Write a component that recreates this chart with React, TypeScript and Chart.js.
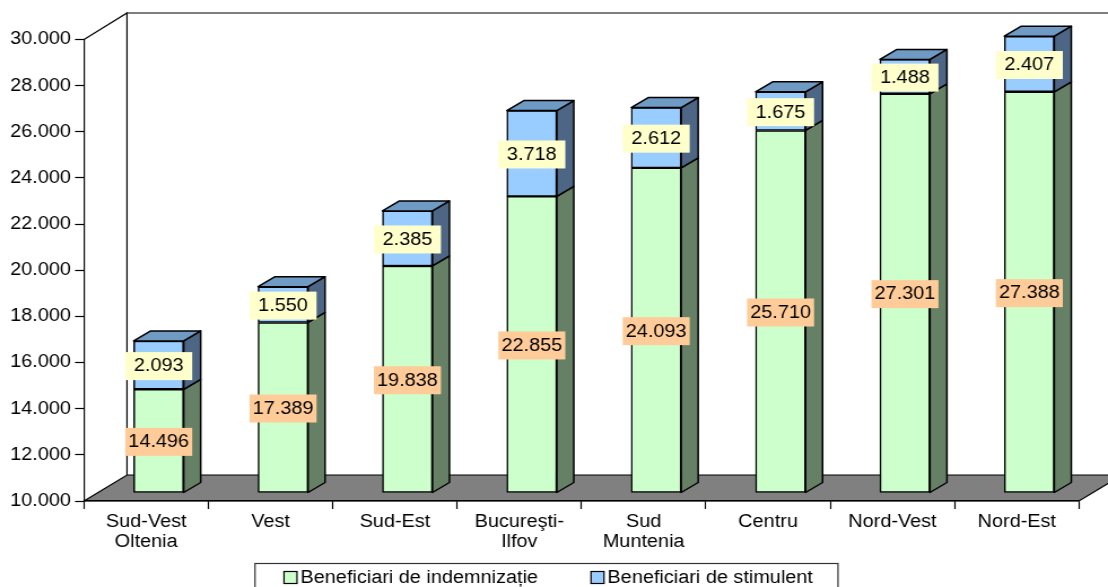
import React, { useEffect, useRef } from "react";
import { Chart, registerables } from "chart.js";

Chart.register(...registerables);

const categories = [
  ["Sud-Vest", "Oltenia"],
  "Vest",
  "Sud-Est",
  ["Bucureşti-", "Ilfov"],
  ["Sud", "Muntenia"],
  "Centru",
  "Nord-Vest",
  "Nord-Est",
];
const indemnizatie = [14496, 17389, 19838, 22855, 24093, 25710, 27301, 27388];
const stimulent = [2093, 1550, 2385, 3718, 2612, 1675, 1488, 2407];
const seriesNames = ["Beneficiari de indemnizație", "Beneficiari de stimulent"];
const faceColors = ["#CCFFCC", "#99CCFF"];
const sideColors = ["#668066", "#4D6685"];
const topColors = ["#80A080", "#6E9AC4"];
const labelColors = ["#FFCC99", "#FFFFCC"];
const axisMin = 10000;
const axisMax = 30000;

const W = 1108;
const H = 587;
const S = 1.13;
const CW = Math.round(W / S);
const X = (px: number) => (px * CW) / W;
const FONT = '"Liberation Sans", Arial, sans-serif';
const FS = 17.6;

const fmt = (v: number) => String(v).replace(/\B(?=(\d{3})+(?!\d))/g, ".");

const plugin3d = {
  id: "plugin3d",
  beforeDraw(chart: any) {
    const { ctx } = chart;
    ctx.save();
    ctx.strokeStyle = "#000";
    ctx.lineWidth = 1.2;
    // floor
    ctx.beginPath();
    ctx.moveTo(X(84), 501);
    ctx.lineTo(X(127), 475);
    ctx.lineTo(X(1122), 475);
    ctx.lineTo(X(1079), 501);
    ctx.closePath();
    ctx.fillStyle = "#808080";
    ctx.fill();
    ctx.stroke();
    // walls
    ctx.beginPath();
    ctx.moveTo(X(84), 39.5);
    ctx.lineTo(X(127), 13);
    ctx.lineTo(X(127), 475);
    ctx.moveTo(X(127), 13);
    ctx.lineTo(X(1122), 13);
    ctx.stroke();
    // legend frame and entries
    ctx.strokeStyle = "#333";
    ctx.strokeRect(X(255), 563.5, X(583), 40);
    ctx.strokeStyle = "#000";
    ctx.font = `${FS}px ${FONT}`;
    ctx.textBaseline = "middle";
    ctx.textAlign = "left";
    const sw = [284, 591];
    const tx = [300.5, 607.5];
    seriesNames.forEach((name, i) => {
      ctx.fillStyle = faceColors[i];
      ctx.fillRect(X(sw[i]), 571.5, X(13), 12);
      ctx.strokeRect(X(sw[i]), 571.5, X(13), 12);
      ctx.fillStyle = "#000";
      ctx.fillText(name, X(tx[i]), 578);
    });
    ctx.restore();
  },
  beforeDatasetsDraw(chart: any) {
    chart.ctx.save();
    chart.ctx.translate(X(12.5), -8);
  },
  afterDatasetsDraw(chart: any) {
    const { ctx } = chart;
    const dx = X(17);
    const dy = -10;
    // 3D faces
    chart.data.datasets.forEach((_: any, i: number) => {
      chart.getDatasetMeta(i).data.forEach((bar: any) => {
        const r = bar.x + bar.width / 2;
        const l = bar.x - bar.width / 2;
        ctx.lineWidth = 1.5;
        ctx.strokeStyle = "#000";
        ctx.lineJoin = "round";
        ctx.beginPath();
        ctx.moveTo(r, bar.base);
        ctx.lineTo(r + dx, bar.base + dy);
        ctx.lineTo(r + dx, bar.y + dy);
        ctx.lineTo(r, bar.y);
        ctx.closePath();
        ctx.fillStyle = sideColors[i];
        ctx.fill();
        ctx.stroke();
        if (i === chart.data.datasets.length - 1) {
          ctx.beginPath();
          ctx.moveTo(l, bar.y);
          ctx.lineTo(l + dx, bar.y + dy);
          ctx.lineTo(r + dx, bar.y + dy);
          ctx.lineTo(r, bar.y);
          ctx.closePath();
          ctx.fillStyle = topColors[i];
          ctx.fill();
          ctx.stroke();
        }
      });
    });
    // value labels
    ctx.font = `${FS}px ${FONT}`;
    ctx.textAlign = "center";
    ctx.textBaseline = "middle";
    chart.data.datasets.forEach((ds: any, i: number) => {
      chart.getDatasetMeta(i).data.forEach((bar: any, j: number) => {
        const cy = (bar.y + bar.base) / 2 + 1;
        ctx.fillStyle = labelColors[i];
        ctx.fillRect(bar.x - X(33.5), cy - 14, X(67), 28);
        ctx.fillStyle = "#000";
        ctx.fillText(fmt(ds.data[j]), bar.x, cy + 0.5);
      });
    });
    ctx.restore();
  },
};

export default function App() {
  const ref = useRef<HTMLCanvasElement>(null);
  useEffect(() => {
    const chart = new Chart(ref.current!, {
      type: "bar",
      data: {
        labels: categories as any,
        datasets: [
          {
            label: seriesNames[0],
            data: indemnizatie,
            base: axisMin,
            backgroundColor: faceColors[0],
            borderColor: "#000",
            borderWidth: 1.5,
            borderSkipped: false,
            barThickness: X(50),
            clip: false as any,
          },
          {
            label: seriesNames[1],
            data: stimulent,
            backgroundColor: faceColors[1],
            borderColor: "#000",
            borderWidth: 1.5,
            borderSkipped: false,
            barThickness: X(50),
            clip: false as any,
          },
        ],
      },
      options: {
        animation: false,
        responsive: false,
        devicePixelRatio: 1,
        layout: { padding: { top: 39.5, right: X(W - 1079), left: 0, bottom: 0 } },
        plugins: { legend: { display: false }, tooltip: { enabled: false }, title: { display: false } },
        scales: {
          x: {
            stacked: true,
            grid: { drawOnChartArea: false, tickLength: 8, tickColor: "#000", tickWidth: 1.2 },
            border: { color: "#000", width: 1.2 },
            ticks: {
              color: "#000",
              font: { family: FONT, size: 17.6, lineHeight: 1.14 },
              maxRotation: 0,
              autoSkip: false,
              padding: 3,
            },
            afterFit(scale: any) {
              scale.height = H - 501;
            },
          },
          y: {
            stacked: true,
            min: axisMin,
            max: axisMax,
            grid: { drawOnChartArea: false, tickLength: X(9), tickColor: "#000", tickWidth: 1.2 },
            border: { color: "#000", width: 1.2 },
            ticks: {
              color: "#000",
              stepSize: 2000,
              padding: X(4),
              font: { family: FONT, size: FS },
              callback: (v: any) => fmt(Number(v)),
            },
            afterFit(scale: any) {
              scale.width = X(84);
            },
          },
        },
      },
      plugins: [plugin3d],
    });
    return () => chart.destroy();
  }, []);
  return (
    <div style={{ position: "absolute", left: 0, top: 0, width: W, height: H, overflow: "hidden", background: "#fff" }}>
      <canvas
        ref={ref}
        width={CW}
        height={H}
        style={{ display: "block", width: CW, height: H, transformOrigin: "0 0", transform: `scaleX(${W / CW})` }}
      />
    </div>
  );
}
